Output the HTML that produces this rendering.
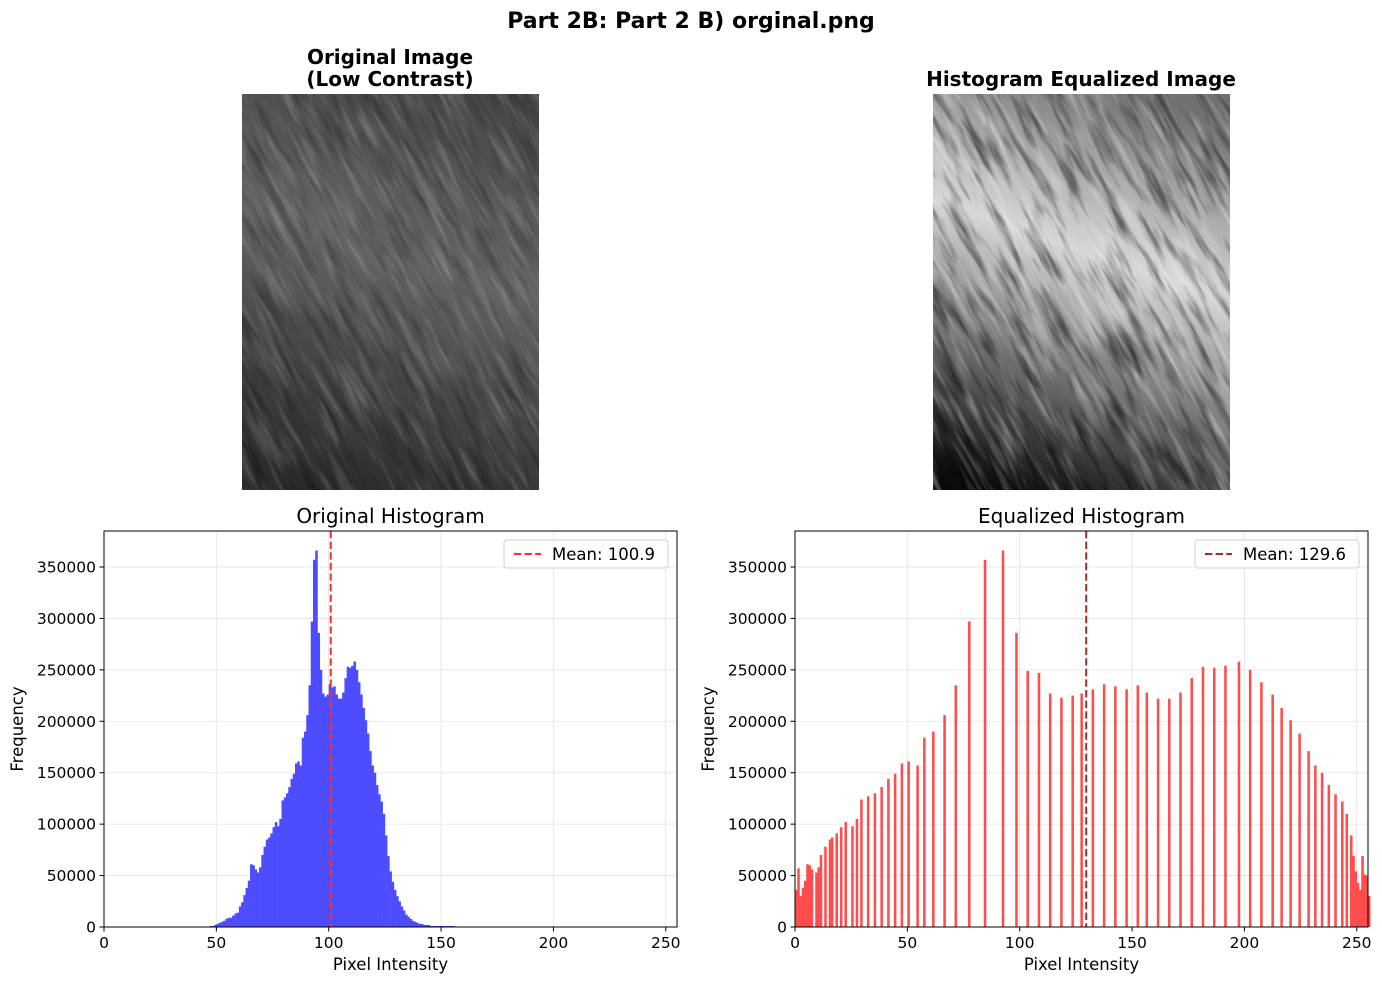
<!DOCTYPE html>
<html><head><meta charset="utf-8"><style>
html,body{margin:0;padding:0;background:#fff;}
svg{display:block;font-family:"DejaVu Sans","Liberation Sans",sans-serif;}
</style></head><body>
<svg id="fig" width="1382" height="982" viewBox="0 0 1382 982" xmlns="http://www.w3.org/2000/svg">
<defs>
<filter id="streak" x="0" y="0" width="1" height="1">
<feTurbulence type="fractalNoise" baseFrequency="0.014 0.13" numOctaves="3" seed="4"/>
<feColorMatrix type="matrix" values="0 0 0 0 1  0 0 0 0 1  0 0 0 0 1  1.6 0 0 0 -0.75"/>
</filter>
<filter id="streakDark" x="0" y="0" width="1" height="1">
<feTurbulence type="fractalNoise" baseFrequency="0.016 0.11" numOctaves="3" seed="9"/>
<feColorMatrix type="matrix" values="0 0 0 0 0  0 0 0 0 0  0 0 0 0 0  1.6 0 0 0 -0.75"/>
</filter>
<linearGradient id="gOrig" gradientUnits="userSpaceOnUse" x1="430" y1="94" x2="310" y2="490">
<stop offset="0" stop-color="#484848"/><stop offset="0.4" stop-color="#656565"/><stop offset="0.65" stop-color="#4a4a4a"/><stop offset="1" stop-color="#2a2a2a"/>
</linearGradient>
<linearGradient id="gEq" gradientUnits="userSpaceOnUse" x1="1140" y1="94" x2="1000" y2="490">
<stop offset="0" stop-color="#707070"/><stop offset="0.4" stop-color="#d8d8d8"/><stop offset="0.62" stop-color="#8a8a8a"/><stop offset="1" stop-color="#0c0c0c"/>
</linearGradient>
<clipPath id="cOrig"><rect x="242" y="94" width="297" height="396"/></clipPath>
<clipPath id="cEq"><rect x="933" y="94" width="297" height="396"/></clipPath>
</defs>
<text x="691" y="28" text-anchor="middle" font-size="22" font-weight="bold">Part 2B: Part 2 B) orginal.png</text>
<text x="390" y="64" text-anchor="middle" font-size="20" font-weight="bold">Original Image</text>
<text x="390" y="86" text-anchor="middle" font-size="20" font-weight="bold">(Low Contrast)</text>
<text x="1081" y="86" text-anchor="middle" font-size="20" font-weight="bold">Histogram Equalized Image</text>
<g clip-path="url(#cOrig)">
<rect x="242" y="94" width="297" height="396" fill="url(#gOrig)"/>
<g transform="rotate(62 390 292)" opacity="0.3"><rect x="90" y="0" width="600" height="600" filter="url(#streak)"/></g>
<g transform="rotate(62 390 292)" opacity="0.45"><rect x="90" y="0" width="600" height="600" filter="url(#streakDark)"/></g>
</g>
<g clip-path="url(#cEq)">
<rect x="933" y="94" width="297" height="396" fill="url(#gEq)"/>
<g transform="rotate(62 1081 292)" opacity="0.6"><rect x="781" y="0" width="600" height="600" filter="url(#streak)"/></g>
<g transform="rotate(62 1081 292)" opacity="0.85"><rect x="781" y="0" width="600" height="600" filter="url(#streakDark)"/></g>
</g>
<g id="left"></g>
<g id="right"></g>
</svg>
<script>
const origIntensity = [47,48,49,50,51,52,53,54,55,56,57,58,59,60,61,62,63,64,65,66,67,68,69,70,71,72,73,74,75,76,77,78,79,80,81,82,83,84,85,86,87,88,89,90,91,92,93,94,95,96,97,98,99,100,101,102,103,104,105,106,107,108,109,110,111,112,113,114,115,116,117,118,119,120,121,122,123,124,125,126,127,128,129,130,131,132,133,134,135,136,137,138,139,140,141,142,143,144,145,146,147,148,149,150,151,152,153,154,155];
const origCounts = [1000,1000,2000,3000,4000,5000,6000,8000,9000,9000,11000,13000,14000,20000,24000,31000,38000,45000,61000,60000,56000,53000,58000,70000,78000,85000,87000,91000,97000,102000,98000,105000,123000,126000,130000,136000,144000,149000,159000,161000,157000,184000,190000,206000,235000,297000,357000,366000,286000,250000,227000,224000,226000,236000,233000,234000,226000,222000,222000,228000,242000,253000,252000,254000,258000,250000,238000,226000,213000,201000,188000,171000,157000,150000,138000,129000,122000,110000,89000,69000,54000,44000,36000,30000,25000,20000,16000,12000,10000,8000,6000,5000,4000,3000,3000,2000,2000,2000,1000,1000,1000,1000,1000,1000,1000,1000,1000,1000,1000];
const eqIntensity = [0,1,2,3,4,5,6,7,9,10,11,13,15,16,18,20,22,25,27,29,32,35,38,41,44,47,50,54,57,61,66,71,77,84,92,98,103,108,113,118,123,127,132,137,142,147,152,156,161,166,171,176,181,186,191,197,202,207,212,216,220,224,228,231,234,237,240,243,245,247,248,249,250,251,252,253,254,255];
const eqCounts = [36000,57000,30000,38000,45000,61000,60000,56000,53000,58000,70000,78000,85000,87000,91000,97000,102000,98000,105000,124000,127000,130000,136000,144000,149000,159000,161000,157000,184000,190000,206000,235000,297000,357000,366000,286000,249000,247000,227000,223000,225000,227000,231000,236000,234000,231000,235000,228000,222000,222000,228000,242000,253000,252000,254000,258000,250000,238000,226000,213000,201000,188000,171000,157000,150000,138000,129000,122000,110000,89000,69000,54000,43000,36000,69000,51000,50000,30000];
const xTicks = [0,50,100,150,200,250];
const yTicks = [0,50000,100000,150000,200000,250000,300000,350000];
const origMean = [100.9];
const eqMean = [129.6];

const NS="http://www.w3.org/2000/svg";
function mk(parent,tag,attrs){const e=document.createElementNS(NS,tag);for(const k in attrs)e.setAttribute(k,attrs[k]);parent.appendChild(e);return e;}

function drawHist(gid,x0,title,cats,vals,color,mean,meanColor,meanLabel){
  const g=document.getElementById(gid);
  const y0=531,w=573,h=396,yMax=385000,xMax=255;
  const sx=v=>x0+v/xMax*w, sy=v=>y0+h-v/yMax*h;
  xTicks.forEach(t=>{const l=mk(g,'line',{x1:sx(t),x2:sx(t),y1:y0,y2:y0+h,stroke:'#b0b0b0','stroke-opacity':0.35,'stroke-width':0.8});
    
    });
  yTicks.forEach(t=>{const l=mk(g,'line',{x1:x0,x2:x0+w,y1:sy(t),y2:sy(t),stroke:'#b0b0b0','stroke-opacity':0.35,'stroke-width':0.8});
    
    });
  cats.forEach((c,i)=>{const r=mk(g,'rect',{x:sx(c),y:sy(vals[i]),width:sx(c+1)-sx(c)+0.3,height:sy(0)-sy(vals[i]),fill:color});
    
    });
  const ml=mk(g,'line',{x1:sx(mean),x2:sx(mean),y1:y0,y2:y0+h,stroke:meanColor,'stroke-width':2,'stroke-dasharray':'7.4,3.2'});
  
  
  const fr=mk(g,'rect',{x:x0,y:y0,width:w,height:h,fill:'none',stroke:'#000','stroke-width':1});
  
  
  xTicks.forEach(t=>{mk(g,'line',{x1:sx(t),x2:sx(t),y1:y0+h,y2:y0+h+4.5,stroke:'#000'});
    const tx=mk(g,'text',{x:sx(t),y:y0+h+21,'text-anchor':'middle','font-size':15.5});tx.textContent=t;
    
    });
  yTicks.forEach(t=>{mk(g,'line',{x1:x0-4.5,x2:x0,y1:sy(t),y2:sy(t),stroke:'#000'});
    const tx=mk(g,'text',{x:x0-8,y:sy(t)+5.5,'text-anchor':'end','font-size':15.5});tx.textContent=t;
    
    });
  const xl=mk(g,'text',{x:x0+w/2,y:970,'text-anchor':'middle','font-size':16.5});xl.textContent='Pixel Intensity';
  
  
  const yl=mk(g,'text',{x:0,y:0,'text-anchor':'middle','font-size':16.5,transform:`translate(${x0-81},${y0+h/2}) rotate(-90)`});yl.textContent='Frequency';
  
  
  const tt=mk(g,'text',{x:x0+w/2,y:523,'text-anchor':'middle','font-size':20});tt.textContent=title;
  
  
  const lg=mk(g,'g',{});
  
  
  const lx=x0+w-173,ly=y0+9;
  mk(lg,'rect',{x:lx,y:ly,width:164,height:28,rx:3,fill:'#fff','fill-opacity':0.8,stroke:'#d0d0d0'});
  mk(lg,'line',{x1:lx+10,x2:lx+37,y1:ly+14,y2:ly+14,stroke:meanColor,'stroke-width':2,'stroke-dasharray':'7.4,3.2'});
  const lt=mk(lg,'text',{x:lx+48,y:ly+20,'font-size':16.5});lt.textContent=meanLabel;
  
  
}
drawHist('left',104,'Original Histogram',origIntensity,origCounts,'#4d4dff',origMean[0],'#ff2a2a','Mean: '+origMean[0].toFixed(1));
drawHist('right',795,'Equalized Histogram',eqIntensity,eqCounts,'#ff4d4d',eqMean[0],'#a52a2a','Mean: '+eqMean[0].toFixed(1));
</script>
</body></html>
